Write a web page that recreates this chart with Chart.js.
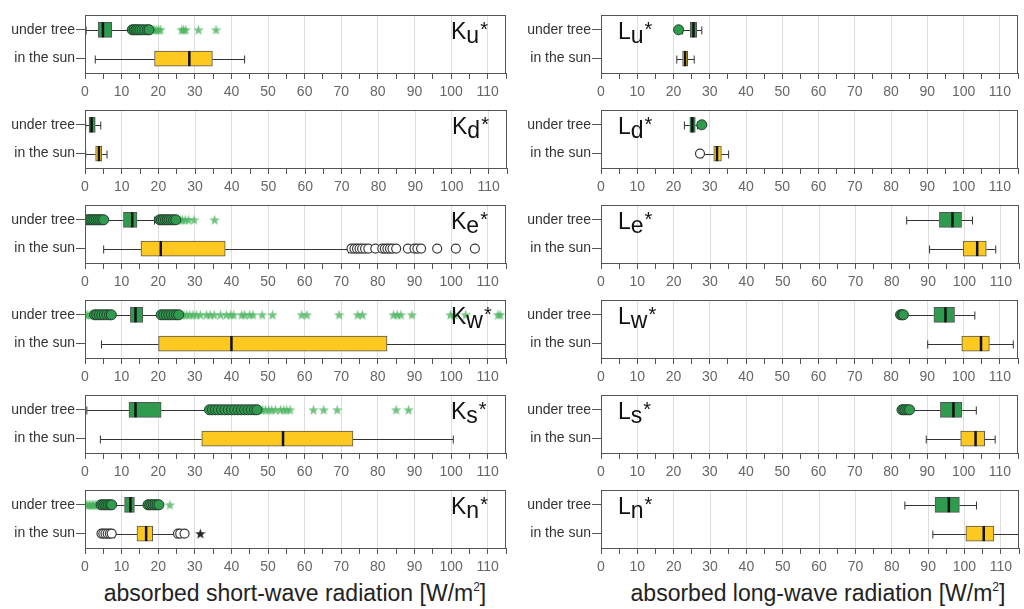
<!DOCTYPE html>
<html>
<head>
<meta charset="utf-8">
<script src="https://cdn.jsdelivr.net/npm/chart.js@4.4.0/dist/chart.umd.min.js"></script>
<style>
  body { margin: 0; background: #fff; }
  #wrap { position: relative; width: 1024px; height: 609px; overflow: hidden; font-family: "Liberation Sans", Arial, sans-serif; }
  canvas { position: absolute; }
  .xtitle { position: absolute; top: 582px; font-size: 23px; line-height: 23px; color: #222; white-space: nowrap; transform: translateX(-50%); }
  .xtitle sup { font-size: 12px; vertical-align: 10px; line-height: 0; }
</style>
</head>
<body>
<div id="wrap">
  <div class="xtitle" style="left:295px">absorbed short-wave radiation [W/m<sup>2</sup>]</div>
  <div class="xtitle" style="left:818px">absorbed long-wave radiation [W/m<sup>2</sup>]</div>
</div>
<script>
// categories and ticks
const groups = ['under tree', 'in the sun'];
const xMax = 115;

// box stats: [whisker low, q1, median, q3, whisker high]
const Ku_tree = [0.3, 3.6, 4.9, 7.3, 12.6];
const Ku_treeOut = [12.9, 13.4, 13.9, 14.4, 15.0, 15.6, 16.3, 17.0, 17.5];
const Ku_treeFar = [18.6, 19.1, 19.6, 20.1, 20.6, 26.4, 26.9, 27.5, 31.0, 35.8];
const Ku_sun = [2.8, 19.0, 28.5, 34.8, 43.6];

const Kd_tree = [0.2, 1.1, 1.8, 2.8, 4.3];
const Kd_sun = [0.2, 2.9, 3.8, 4.6, 6.0];

const Ke_tree = [5.6, 10.5, 12.9, 14.2, 19.0];
const Ke_treeOut = [0.6, 1.1, 1.6, 2.1, 2.6, 3.1, 3.6, 4.1, 4.6, 5.1, 20.4, 20.9, 21.4, 22.0, 22.5, 23.0, 23.6, 24.2, 24.8];
const Ke_treeFar = [25.4, 26.0, 26.6, 27.4, 28.3, 29.8, 35.4];
const Ke_sun = [5.1, 15.3, 20.7, 38.3, 72.0];
const Ke_sunOut = [72.8, 73.6, 74.3, 75.0, 75.7, 76.5, 77.4, 79.3, 81.2, 81.9, 82.6, 83.3, 84.0, 85.0, 88.2, 90.0, 90.8, 91.8, 96.2, 101.3, 106.5];

const Kw_tree = [7.6, 12.4, 13.8, 15.8, 20.3];
const Kw_treeOut = [2.6, 3.2, 3.9, 4.6, 5.3, 6.0, 6.7, 7.2, 20.8, 21.5, 22.2, 22.9, 23.6, 24.3, 25.0, 25.6];
const Kw_treeFar = [0.3, 0.8, 1.4, 1.9, 26.3, 27.0, 27.8, 28.6, 29.5, 30.4, 31.5, 33.2, 34.2, 35.3, 37.0, 38.6, 39.8, 40.6, 42.8, 43.6, 45.0, 45.9, 48.4, 51.2, 59.2, 60.6, 69.4, 74.5, 75.8, 84.3, 85.3, 86.3, 89.3, 99.8, 101.0, 104.0, 112.8, 113.4];
const Kw_sun = [4.5, 20.1, 40.0, 82.5, 125];

const Ks_tree = [0.5, 12.0, 13.8, 20.8, 33.5];
const Ks_treeOut = [34.0, 34.8, 35.6, 36.4, 37.3, 38.2, 39.1, 40.0, 40.9, 41.8, 42.7, 43.6, 44.5, 45.4, 46.3, 47.0];
const Ks_treeFar = [47.8, 48.5, 49.3, 50.2, 51.0, 52.0, 53.4, 54.3, 55.1, 56.0, 62.4, 65.2, 68.9, 85.0, 88.4];
const Ks_sun = [4.2, 31.9, 54.1, 73.2, 100.6];

const Kn_tree = [7.6, 10.8, 12.4, 13.5, 16.7];
const Kn_treeOut = [4.4, 4.9, 5.4, 5.9, 6.4, 6.9, 7.3, 17.2, 17.7, 18.2, 18.7, 19.2, 19.7, 20.2];
const Kn_treeFar = [0.4, 0.8, 1.2, 1.6, 2.0, 2.4, 2.8, 3.2, 3.6, 4.0, 23.2];
const Kn_sun = [8.1, 14.2, 16.7, 18.5, 24.9];
const Kn_sunOut = [4.5, 5.0, 5.6, 6.2, 6.8, 7.3, 25.4, 26.0, 27.2];
const Kn_sunFar = [31.5];

const Lu_tree = [22.5, 24.6, 25.5, 26.4, 27.8];
const Lu_treeOut = [21.4];
const Lu_sun = [20.9, 22.5, 23.2, 23.9, 25.7];

const Ld_tree = [23.0, 24.5, 25.2, 26.0, 26.6];
const Ld_treeOut = [27.8];
const Ld_sun = [28.0, 31.1, 32.0, 33.2, 35.2];
const Ld_sunOut = [27.3];

const Le_tree = [84.1, 93.1, 96.7, 99.2, 102.2];
const Le_sun = [90.4, 99.7, 103.5, 106.0, 108.6];

const Lw_tree = [83.8, 91.8, 95.0, 97.5, 103.1];
const Lw_treeOut = [82.6, 83.0, 83.4];
const Lw_sun = [90.1, 99.5, 104.8, 107.1, 113.7];

const Ls_tree = [85.6, 93.6, 97.2, 99.5, 103.5];
const Ls_treeOut = [83.0, 83.5, 84.0, 84.6, 85.1];
const Ls_sun = [89.7, 99.2, 103.3, 105.8, 108.7];

const Ln_tree = [83.6, 91.9, 95.7, 98.6, 103.3];
const Ln_sun = [91.3, 100.4, 105.3, 108.1, 115.0];

const panels = [
  { sym: 'K', sub: 'u', col: 0, row: 0, tree: Ku_tree, sun: Ku_sun, treeOut: Ku_treeOut, treeFar: Ku_treeFar },
  { sym: 'K', sub: 'd', col: 0, row: 1, tree: Kd_tree, sun: Kd_sun },
  { sym: 'K', sub: 'e', col: 0, row: 2, tree: Ke_tree, sun: Ke_sun, treeOut: Ke_treeOut, treeFar: Ke_treeFar, sunOut: Ke_sunOut },
  { sym: 'K', sub: 'w', col: 0, row: 3, tree: Kw_tree, sun: Kw_sun, treeOut: Kw_treeOut, treeFar: Kw_treeFar },
  { sym: 'K', sub: 's', col: 0, row: 4, tree: Ks_tree, sun: Ks_sun, treeOut: Ks_treeOut, treeFar: Ks_treeFar },
  { sym: 'K', sub: 'n', col: 0, row: 5, tree: Kn_tree, sun: Kn_sun, treeOut: Kn_treeOut, treeFar: Kn_treeFar, sunOut: Kn_sunOut, sunFar: Kn_sunFar },
  { sym: 'L', sub: 'u', col: 1, row: 0, tree: Lu_tree, sun: Lu_sun, treeOut: Lu_treeOut },
  { sym: 'L', sub: 'd', col: 1, row: 1, tree: Ld_tree, sun: Ld_sun, treeOut: Ld_treeOut, sunOut: Ld_sunOut },
  { sym: 'L', sub: 'e', col: 1, row: 2, tree: Le_tree, sun: Le_sun },
  { sym: 'L', sub: 'w', col: 1, row: 3, tree: Lw_tree, sun: Lw_sun, treeOut: Lw_treeOut },
  { sym: 'L', sub: 's', col: 1, row: 4, tree: Ls_tree, sun: Ls_sun, treeOut: Ls_treeOut },
  { sym: 'L', sub: 'n', col: 1, row: 5, tree: Ln_tree, sun: Ln_sun }
];

const GREEN = '#2e9b4f';
const YELLOW = '#fdc921';
const FONT = '"Liberation Sans", Arial, sans-serif';

function starImg(color, size) {
  const c = document.createElement('canvas');
  c.width = c.height = size;
  const g = c.getContext('2d');
  g.fillStyle = color;
  g.beginPath();
  for (let i = 0; i < 10; i++) {
    const r = i % 2 ? size * 0.2 : size * 0.5;
    const a = -Math.PI / 2 + i * Math.PI / 5;
    const px = size / 2 + r * Math.cos(a), py = size / 2 + r * Math.sin(a) + 0.5;
    i ? g.lineTo(px, py) : g.moveTo(px, py);
  }
  g.closePath();
  g.fill();
  return c;
}
const greenStar = starImg('rgba(76,180,96,0.8)', 11);
const blackStar = starImg('#222', 11);

function pts(vals, grp) {
  return (vals || []).map(v => ({ x: v, y: grp }));
}

function boxPlugin(p) {
  return {
    id: 'box',
    beforeDatasetsDraw(chart) {
      const ctx = chart.ctx, xs = chart.scales.x, ys = chart.scales.y, a = chart.chartArea;
      ctx.save();
      ctx.beginPath();
      ctx.rect(a.left, a.top, a.right - a.left - 1, a.bottom - a.top);
      ctx.clip();
      ctx.strokeStyle = '#333';
      ctx.lineWidth = 1;
      [p.tree, p.sun].forEach((s, i) => {
        const y = Math.round(ys.getPixelForValue(i)) + 0.5;
        const x = s.map(v => xs.getPixelForValue(v));
        ctx.beginPath();
        ctx.moveTo(x[0], y); ctx.lineTo(x[1], y);
        ctx.moveTo(x[3], y); ctx.lineTo(x[4], y);
        ctx.moveTo(x[0], y - 4); ctx.lineTo(x[0], y + 4);
        ctx.moveTo(x[4], y - 4); ctx.lineTo(x[4], y + 4);
        ctx.stroke();
      });
      ctx.restore();
    },
    afterDatasetsDraw(chart) {
      const ctx = chart.ctx, xs = chart.scales.x, ys = chart.scales.y;
      ctx.save();
      ctx.strokeStyle = '#111';
      ctx.lineWidth = 2.5;
      [p.tree, p.sun].forEach((s, i) => {
        const y = ys.getPixelForValue(i);
        const x = xs.getPixelForValue(s[2]);
        ctx.beginPath();
        ctx.moveTo(x, y - 7.5); ctx.lineTo(x, y + 7.5);
        ctx.stroke();
      });
      ctx.restore();
    },
    afterDraw(chart) {
      const ctx = chart.ctx, a = chart.chartArea;
      ctx.save();
      ctx.strokeStyle = '#555';
      ctx.lineWidth = 1;
      ctx.strokeRect(Math.round(a.left) + 0.5, Math.round(a.top) + 0.5, Math.round(a.right - a.left) - 1, Math.round(a.bottom - a.top));
      // panel label
      ctx.fillStyle = '#111';
      ctx.textBaseline = 'alphabetic';
      ctx.font = '23px ' + FONT;
      const w1 = ctx.measureText(p.sym).width;
      const w2 = ctx.measureText(p.sub).width;
      const x0 = p.col === 0 ? a.right - 55 : a.left + 17;
      const y0 = a.top + 24;
      ctx.fillText(p.sym, x0, y0);
      ctx.fillText(p.sub, x0 + w1, y0 + 4);
      ctx.font = '20px ' + FONT;
      ctx.fillText('*', x0 + w1 + w2 + 1, y0 - 3);
      ctx.restore();
    }
  };
}

const wrap = document.getElementById('wrap');
panels.forEach(p => {
  const cv = document.createElement('canvas');
  cv.width = 512;
  cv.height = 95;
  cv.style.left = (p.col * 512) + 'px';
  cv.style.top = (6 + p.row * 95) + 'px';
  wrap.appendChild(cv);

  new Chart(cv, {
    type: 'bar',
    data: {
      labels: groups,
      datasets: [
        {
          type: 'scatter', indexAxis: 'x', data: pts(p.treeOut, groups[0]),
          pointStyle: 'circle', pointRadius: 5, backgroundColor: GREEN, borderColor: '#24402c', borderWidth: 1
        },
        {
          type: 'scatter', indexAxis: 'x', data: pts(p.sunOut, groups[1]),
          pointStyle: 'circle', pointRadius: 4.5, backgroundColor: '#fff', borderColor: '#3a3a3a', borderWidth: 1.2
        },
        {
          type: 'scatter', indexAxis: 'x', data: pts(p.treeFar, groups[0]),
          pointStyle: greenStar
        },
        {
          type: 'scatter', indexAxis: 'x', data: pts(p.sunFar, groups[1]),
          pointStyle: blackStar
        },
        {
          data: [[p.tree[1], p.tree[3]], [p.sun[1], p.sun[3]]],
          backgroundColor: [GREEN, YELLOW],
          borderColor: '#555',
          borderWidth: 1,
          borderSkipped: false,
          barThickness: 15
        }
      ]
    },
    options: {
      indexAxis: 'y',
      responsive: false,
      animation: false,
      events: [],
      layout: { padding: { top: 5, right: p.col === 0 ? 4 : 2, left: 0, bottom: 0 } },
      plugins: { legend: { display: false }, tooltip: { enabled: false } },
      scales: {
        x: {
          type: 'linear', min: 0, max: xMax,
          afterFit: s => { s.height = 28; },
          border: { color: '#555' },
          grid: {
            color: c => (c.tick && c.tick.value % 10 === 0) ? '#dedede' : 'rgba(0,0,0,0)',
            tickColor: '#555', tickLength: 6
          },
          ticks: {
            stepSize: 5, autoSkip: false, maxRotation: 0, padding: 5,
            color: '#666', font: { family: FONT, size: 14 },
            callback: v => (v % 10 === 0 ? v : '')
          }
        },
        y: {
          type: 'category',
          afterFit: s => { s.width = p.col === 0 ? 85 : 89; },
          border: { color: '#555' },
          grid: { drawOnChartArea: false, offset: false, tickColor: '#555', tickLength: 9 },
          ticks: { color: '#333', padding: 1, font: { family: FONT, size: 14 } }
        }
      }
    },
    plugins: [boxPlugin(p)]
  });
});
</script>
</body>
</html>
